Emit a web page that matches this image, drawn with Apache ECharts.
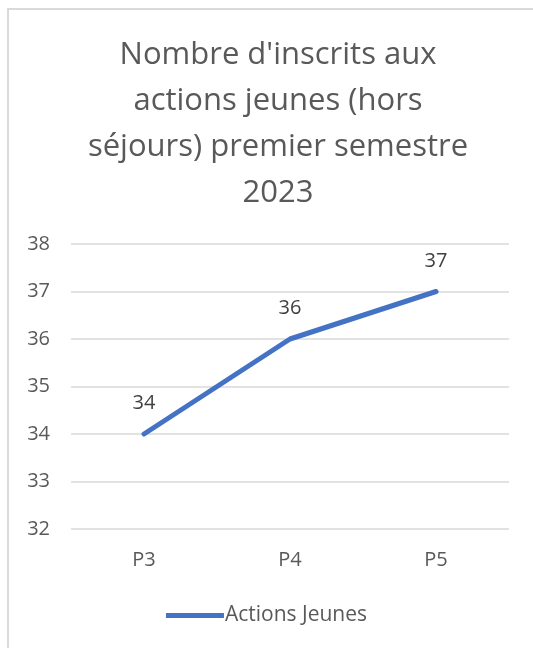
<!DOCTYPE html>
<html><head><meta charset="utf-8">
<script src="https://cdn.jsdelivr.net/npm/echarts@6/dist/echarts.min.js"></script>
<style>html,body{margin:0;padding:0;background:#fff}#c{width:533px;height:648px}</style>
</head><body><div id="c"></div>
<script>
const categories = ['P3', 'P4', 'P5'];
const seriesName = 'Actions Jeunes';
const values = [34, 36, 37];
const titleText = "Nombre d'inscrits aux\nactions jeunes (hors\nséjours) premier semestre\n2023";
const yMin = 32, yMax = 38, yInterval = 1;

const FONT = '"Open Sans", "Noto Sans", sans-serif';
const chart = echarts.init(document.getElementById('c'), null, {renderer: 'canvas'});
chart.setOption({
  animation: false,
  backgroundColor: '#fff',
  graphic: [{
    type: 'rect', left: 7, top: 8, z: -1,
    shape: {x: 0, y: 0, width: 560, height: 680},
    style: {fill: '#fff', stroke: '#d9d9d9', lineWidth: 2}
  }],
  title: {
    text: titleText,
    left: 273, top: 27, textAlign: 'center',
    textStyle: {fontFamily: FONT, fontSize: 31, fontWeight: 'normal', color: '#595959', lineHeight: 46}
  },
  legend: {
    bottom: 17, left: 'center',
    itemWidth: 58, itemHeight: 5, itemGap: 0,
    data: [{name: seriesName, icon: 'path://M0,0 L58,0 L58,5 L0,5 Z'}],
    textStyle: {fontFamily: FONT, fontSize: 21, color: '#595959', padding: [0,0,0,-4]}
  },
  grid: {left: 71, right: 24, top: 244, bottom: 119},
  xAxis: {
    type: 'category', data: categories, boundaryGap: true,
    axisLine: {show: false}, axisTick: {show: false},
    axisLabel: {fontFamily: FONT, fontSize: 20, color: '#595959', margin: 21}
  },
  yAxis: {
    type: 'value', min: yMin, max: yMax, interval: yInterval,
    axisLine: {show: false}, axisTick: {show: false},
    splitLine: {lineStyle: {color: '#d9d9d9', width: 1.5}},
    axisLabel: {fontFamily: FONT, fontSize: 20, color: '#595959', margin: 21}
  },
  series: [{
    name: seriesName, type: 'line', data: values,
    symbol: 'circle', symbolSize: 1, showSymbol: true,
    lineStyle: {color: '#4472C4', width: 5, cap: 'round'},
    itemStyle: {color: '#4472C4'},
    label: {show: true, position: 'top', distance: 20, fontFamily: FONT, fontSize: 20, color: '#404040'}
  }]
});
</script></body></html>
